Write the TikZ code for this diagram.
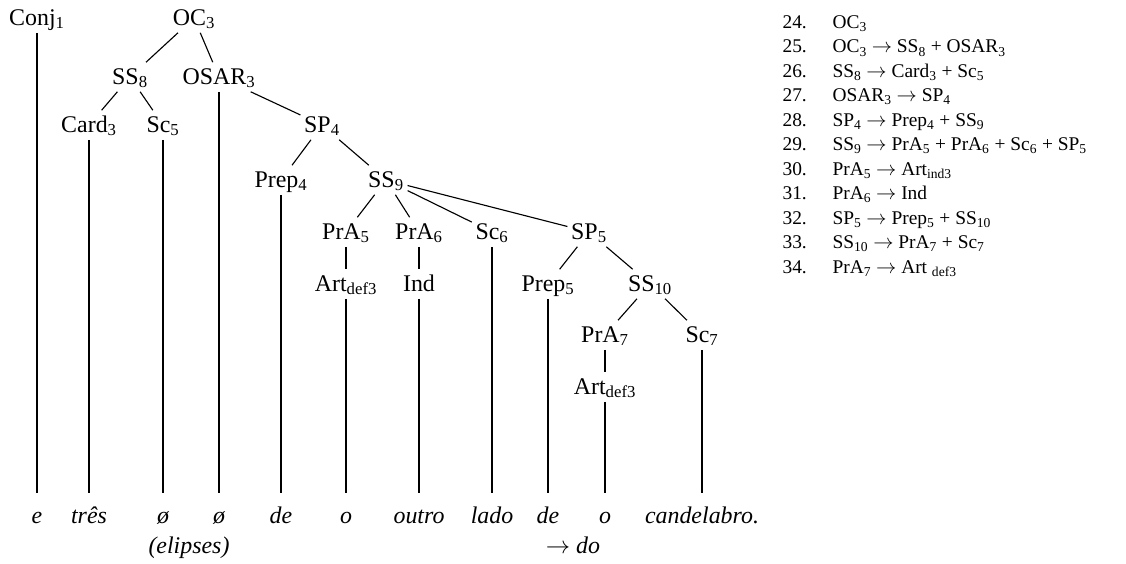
\documentclass[tikz,border=0pt]{standalone}
\usepackage{fontspec}
\setmainfont{Liberation Serif}
\usepackage{tikz}
\tikzset{
    cat/.style={inner xsep=0.08cm, inner ysep=0.08cm, text height=0.45cm, text depth=0.1cm,
        font=\fontsize{17pt}{20pt}\selectfont}
}
\tikzset{
    word/.style={anchor=north, inner sep=0mm, text height=0.75cm, text depth=0.2cm,
        font=\fontsize{17pt}{20pt}\selectfont\itshape},
    gloss/.style={anchor=base, inner sep=0mm, font=\fontsize{17pt}{20pt}\selectfont\itshape}
}

\begin{document}
\begin{tikzpicture}[line width=0.8pt]
    \useasboundingbox (0cm, 0cm) rectangle (28.15cm, -14.075cm);

    \node[cat] (conj) at (0.925cm, -0.45cm) {Conj\textsubscript{1}};
    \node[cat] (oc) at (4.85cm, -0.45cm) {OC\textsubscript{3}};
    \node[cat] (ss8) at (3.25cm, -1.925cm) {SS\textsubscript{8}};
    \node[cat] (osar) at (5.475cm, -1.925cm) {OSAR\textsubscript{3}};
    \node[cat] (card) at (2.225cm, -3.125cm) {Card\textsubscript{3}};
    \node[cat] (sc5) at (4.075cm, -3.125cm) {Sc\textsubscript{5}};
    \node[cat] (sp4) at (8.05cm, -3.125cm) {SP\textsubscript{4}};
    \node[cat] (prep4) at (7.025cm, -4.5cm) {Prep\textsubscript{4}};
    \node[cat] (ss9) at (9.65cm, -4.5cm) {SS\textsubscript{9}};
    \node[cat] (pra5) at (8.65cm, -5.8cm) {PrA\textsubscript{5}};
    \node[cat] (pra6) at (10.475cm, -5.8cm) {PrA\textsubscript{6}};
    \node[cat] (sc6) at (12.3cm, -5.8cm) {Sc\textsubscript{6}};
    \node[cat] (sp5) at (14.725cm, -5.8cm) {SP\textsubscript{5}};
    \node[cat] (arta) at (8.65cm, -7.1cm) {Art\textsubscript{def3}};
    \node[cat] (ind) at (10.475cm, -7.1cm) {Ind};
    \node[cat] (prep5) at (13.7cm, -7.1cm) {Prep\textsubscript{5}};
    \node[cat] (ss10) at (16.25cm, -7.1cm) {SS\textsubscript{10}};
    \node[cat] (pra7) at (15.125cm, -8.375cm) {PrA\textsubscript{7}};
    \node[cat] (sc7) at (17.55cm, -8.375cm) {Sc\textsubscript{7}};
    \node[cat] (artb) at (15.125cm, -9.675cm) {Art\textsubscript{def3}};

    \node[word] (we) at (0.925cm, -12.325cm) {e};
    \node[word] (wtres) at (2.225cm, -12.325cm) {três};
    \node[word] (wnulla) at (4.075cm, -12.325cm) {ø};
    \node[word] (wnullb) at (5.475cm, -12.325cm) {ø};
    \node[word] (wdea) at (7.025cm, -12.325cm) {de};
    \node[word] (woa) at (8.65cm, -12.325cm) {o};
    \node[word] (woutro) at (10.475cm, -12.325cm) {outro};
    \node[word] (wlado) at (12.3cm, -12.325cm) {lado};
    \node[word] (wdeb) at (13.7cm, -12.325cm) {de};
    \node[word] (wob) at (15.125cm, -12.325cm) {o};
    \node[word] (wcand) at (17.55cm, -12.325cm) {candelabro.};

    \node[gloss] (elip) at (4.725cm, -13.825cm) {(elipses)};
    \node[gloss] (contr) at (14.325cm, -13.825cm) {$\rightarrow$ do};

    \draw (oc) edge (ss8);
    \draw (oc) edge (osar);
    \draw (ss8) edge (card);
    \draw (ss8) edge (sc5);
    \draw (osar) edge (sp4);
    \draw (sp4) edge (prep4);
    \draw (sp4) edge (ss9);
    \draw (ss9) edge (pra5);
    \draw (ss9) edge (pra6);
    \draw (ss9) edge (sc6);
    \draw (ss9) edge (sp5);
    \draw (pra5) edge (arta);
    \draw (pra6) edge (ind);
    \draw (sp5) edge (prep5);
    \draw (sp5) edge (ss10);
    \draw (ss10) edge (pra7);
    \draw (ss10) edge (sc7);
    \draw (pra7) edge (artb);

    \draw (conj) edge (we);
    \draw (card) edge (wtres);
    \draw (sc5) edge (wnulla);
    \draw (osar) edge (wnullb);
    \draw (prep4) edge (wdea);
    \draw (arta) edge (woa);
    \draw (ind) edge (woutro);
    \draw (sc6) edge (wlado);
    \draw (prep5) edge (wdeb);
    \draw (artb) edge (wob);
    \draw (sc7) edge (wcand);

    \node[anchor=base west, inner sep=0mm, font=\fontsize{13.8pt}{17.4pt}\selectfont]
        (rules) at (19.55cm, -0.7125cm) {%
        \begin{tabular}[t]{@{}p{1.25cm}@{}l@{}}
            24. & OC\textsubscript{3}\\
            25. & OC\textsubscript{3} $\rightarrow$ SS\textsubscript{8} + OSAR\textsubscript{3}\\
            26. & SS\textsubscript{8} $\rightarrow$ Card\textsubscript{3} + Sc\textsubscript{5}\\
            27. & OSAR\textsubscript{3} $\rightarrow$ SP\textsubscript{4}\\
            28. & SP\textsubscript{4} $\rightarrow$ Prep\textsubscript{4} + SS\textsubscript{9}\\
            29. & SS\textsubscript{9} $\rightarrow$ PrA\textsubscript{5} + PrA\textsubscript{6} + Sc\textsubscript{6} + SP\textsubscript{5}\\
            30. & PrA\textsubscript{5} $\rightarrow$ Art\textsubscript{ind3}\\
            31. & PrA\textsubscript{6} $\rightarrow$ Ind\\
            32. & SP\textsubscript{5} $\rightarrow$ Prep\textsubscript{5} + SS\textsubscript{10}\\
            33. & SS\textsubscript{10} $\rightarrow$ PrA\textsubscript{7} + Sc\textsubscript{7}\\
            34. & PrA\textsubscript{7} $\rightarrow$ Art \textsubscript{def3}
        \end{tabular}};
\end{tikzpicture}
\end{document}
